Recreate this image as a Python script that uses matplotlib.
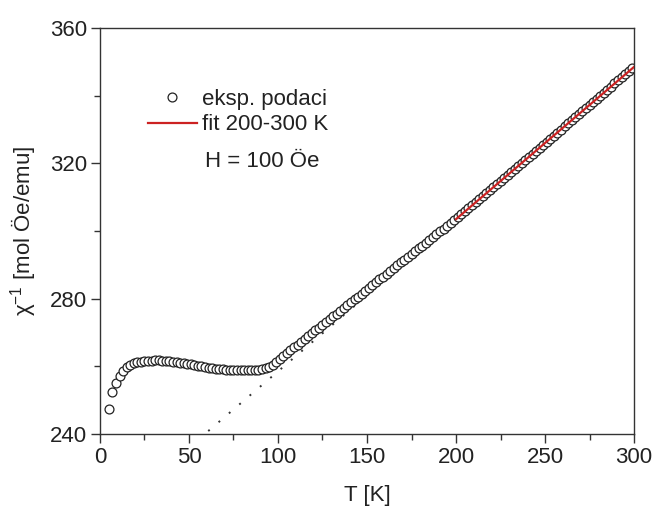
import numpy as np
import matplotlib
matplotlib.use("Agg")
import matplotlib.pyplot as plt
from matplotlib.ticker import MultipleLocator

plt.rcParams['font.family'] = ['Liberation Sans', 'DejaVu Sans']
plt.rcParams['mathtext.fontset'] = 'custom'
plt.rcParams['mathtext.rm'] = 'Liberation Sans'
plt.rcParams['mathtext.it'] = 'Liberation Sans:italic'

# temperature [K]
T = [5, 7, 9, 11, 13, 15, 17, 19, 21, 23, 25, 27, 29, 31, 33, 35, 37, 39, 41, 43,
     45, 47, 49, 51, 53, 55, 57, 59, 61, 63, 65, 67, 69, 71, 73, 75, 77, 79, 81, 83,
     85, 87, 89, 91, 93, 95, 97, 99, 101, 103, 105, 107, 109, 111, 113, 115, 117, 119, 121, 123,
     125, 127, 129, 131, 133, 135, 137, 139, 141, 143, 145, 147, 149, 151, 153, 155, 157, 159, 161, 163,
     165, 167, 169, 171, 173, 175, 177, 179, 181, 183, 185, 187, 189, 191, 193, 195, 197, 199, 201, 203,
     205, 207, 209, 211, 213, 215, 217, 219, 221, 223, 225, 227, 229, 231, 233, 235, 237, 239, 241, 243,
     245, 247, 249, 251, 253, 255, 257, 259, 261, 263, 265, 267, 269, 271, 273, 275, 277, 279, 281, 283,
     285, 287, 289, 291, 293, 295, 297, 299]

# inverse susceptibility [mol Oe/emu]
chi_inv = [247.4, 252.4, 255.2, 257.2, 258.7, 259.8, 260.5, 260.9, 261.2, 261.4,
           261.6, 261.7, 261.7, 261.8, 261.8, 261.7, 261.6, 261.5, 261.4, 261.3,
           261.1, 261.0, 260.8, 260.6, 260.4, 260.2, 260.0, 259.8, 259.6, 259.5,
           259.3, 259.2, 259.1, 259.0, 258.9, 258.9, 258.8, 258.8, 258.8, 258.8,
           258.9, 258.9, 259.0, 259.2, 259.4, 259.9, 260.5, 261.3, 262.2, 263.1,
           263.9, 264.7, 265.6, 266.4, 267.2, 268.1, 268.9, 269.8, 270.6, 271.4,
           272.3, 273.1, 273.9, 274.8, 275.6, 276.5, 277.3, 278.1, 279.0, 279.8,
           280.6, 281.5, 282.3, 283.2, 284.0, 284.8, 285.7, 286.5, 287.3, 288.2,
           289.0, 289.9, 290.7, 291.5, 292.4, 293.2, 294.0, 294.9, 295.7, 296.6,
           297.4, 298.2, 299.1, 299.9, 300.7, 301.6, 302.4, 303.3, 304.2, 305.0,
           305.9, 306.8, 307.7, 308.5, 309.4, 310.3, 311.2, 312.1, 312.9, 313.8,
           314.7, 315.6, 316.5, 317.4, 318.3, 319.2, 320.1, 321.0, 321.8, 322.7,
           323.6, 324.5, 325.4, 326.3, 327.2, 328.2, 329.1, 330.0, 330.9, 331.8,
           332.7, 333.6, 334.5, 335.4, 336.3, 337.3, 338.2, 339.1, 340.0, 340.9,
           341.8, 342.7, 343.6, 344.5, 345.4, 346.4, 347.3, 348.2]

fit_range = [200, 300]
extrap_start = 55

T_arr = np.array(T, dtype=float)
y_arr = np.array(chi_inv, dtype=float)
mask = (T_arr >= fit_range[0]) & (T_arr <= fit_range[1])
slope, intercept = np.polyfit(T_arr[mask], y_arr[mask], 1)

fig = plt.figure(figsize=(6.56, 5.09), dpi=100)
ax = fig.add_axes([0.1524, 0.1473, 0.8141, 0.7977])

spine_c = '#333333'
text_c = '#222222'
fs = 16

# dotted Curie-Weiss extrapolation
Tx = np.array([extrap_start, fit_range[1]])
ax.plot(Tx, slope * Tx + intercept, linestyle=(0, (1, 6)), color='#333333', lw=1.4, zorder=1)

# data
ax.plot(T, chi_inv, linestyle='none', marker='o', markersize=6.4,
        markerfacecolor='white', markeredgecolor='#222222', markeredgewidth=0.9,
        label='eksp. podaci', zorder=2)

# fit
Tf = np.array(fit_range, dtype=float)
ax.plot(Tf, slope * Tf + intercept, color='#cc2222', lw=1.6, label='fit 200-300 K', zorder=3)

ax.set_xlim(0, 300)
ax.set_ylim(240, 360)
ax.xaxis.set_major_locator(MultipleLocator(50))
ax.xaxis.set_minor_locator(MultipleLocator(25))
ax.yaxis.set_major_locator(MultipleLocator(40))
ax.yaxis.set_minor_locator(MultipleLocator(20))
ax.tick_params(which='major', direction='out', length=6.5, width=1.0, color=spine_c,
               labelsize=fs, labelcolor=text_c, pad=3)
ax.tick_params(which='minor', direction='out', length=4, width=1.0, color=spine_c)
for s in ax.spines.values():
    s.set_color(spine_c)
    s.set_linewidth(1.0)

ax.set_xlabel('T [K]', fontsize=fs, color=text_c, labelpad=12)
ax.set_ylabel('χ$^{\\mathregular{-1}}$ [mol Öe/emu]', fontsize=fs, color=text_c, labelpad=8)

leg = ax.legend(loc='upper left', bbox_to_anchor=(0.09, 0.85), frameon=False,
                fontsize=fs, handlelength=2.2, handletextpad=0.25, labelspacing=0.2,
                borderaxespad=0, borderpad=0)
for t in leg.get_texts():
    t.set_color(text_c)

ax.text(0.197, 0.67, 'H = 100 Öe', transform=ax.transAxes, fontsize=fs, color=text_c,
        ha='left', va='center')

fig.savefig('out.png', dpi=100)
